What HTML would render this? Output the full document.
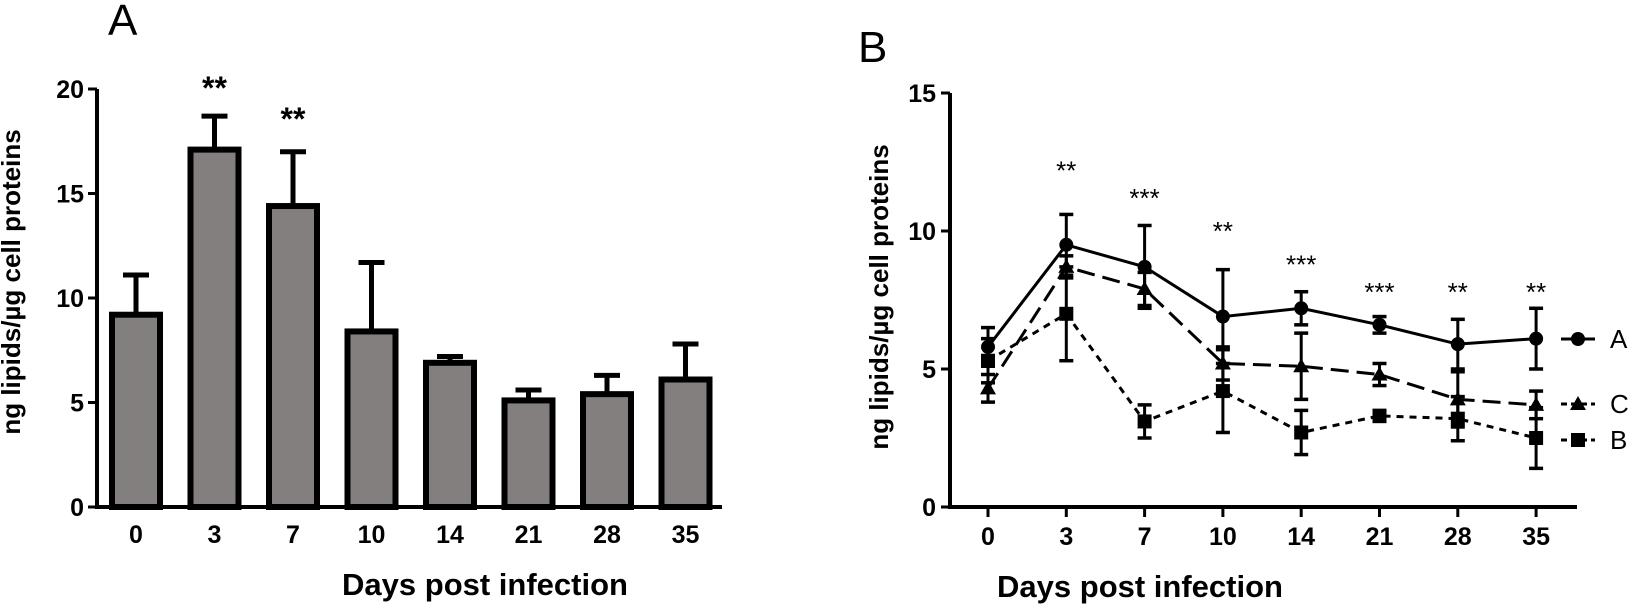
<!DOCTYPE html>
<html><head><meta charset="utf-8"><style>
body{margin:0;background:#fff}
svg{display:block;font-family:"Liberation Sans",Arial,sans-serif}
</style></head><body>
<svg id="c" width="1637" height="609" viewBox="0 0 1637 609">
<g id="pa"></g>
<g id="pb"></g>
</svg>
<script>
const cats=["0","3","7","10","14","21","28","35"];
const barVals=[9.2,17.1,14.4,8.4,6.9,5.1,5.4,6.1];
const barErr=[1.9,1.6,2.6,3.3,0.3,0.5,0.9,1.7];
const barSig=["","**","**","","","","",""];
const barSigLevel=[0,20.2,18.7,0,0,0,0,0];
const ticksA=[0,5,10,15,20];
const serA=[5.8,9.5,8.7,6.9,7.2,6.6,5.9,6.1];
const errA=[0.7,1.1,1.5,1.7,0.6,0.3,0.9,1.1];
const serC=[4.3,8.7,7.9,5.2,5.1,4.8,3.9,3.7];
const errC=[0.5,0.4,0.6,0.6,1.2,0.4,1.0,0.5];
const serB=[5.3,7.0,3.1,4.2,2.7,3.3,3.2,2.5];
const errB=[0.8,1.7,0.6,1.5,0.8,0.2,0.8,1.1];
const lineSig=["","**","***","**","***","***","**","**"];
const lineSigLevel=[0,12.3,11.3,10.1,8.9,7.9,7.9,7.9];
const ticksB=[0,5,10,15];
const NS="http://www.w3.org/2000/svg";
function mk(p,t,a,txt){const e=document.createElementNS(NS,t);for(const k in a)e.setAttribute(k,a[k]);if(txt!==undefined)e.textContent=txt;p.appendChild(e);return e;}
// Panel A
const A=document.getElementById('pa');
const ya=v=>507-v*20.9, xa=i=>136+i*78.5;
let t=mk(A,'text',{x:108,y:35,'font-size':44},'A');
t=mk(A,'text',{x:0,y:0,'font-size':26,'font-weight':'bold','text-anchor':'middle',transform:'translate(20,282) rotate(-90)'},'ng lipids/µg cell proteins');
barVals.forEach((v,i)=>{
 const x=xa(i);
 let l=mk(A,'line',{x1:x,x2:x,y1:ya(v),y2:ya(v+barErr[i]),stroke:'#000','stroke-width':5});
 l=mk(A,'line',{x1:x-13,x2:x+13,y1:ya(v+barErr[i]),y2:ya(v+barErr[i]),stroke:'#000','stroke-width':5});
 const r=mk(A,'rect',{x:x-24,y:ya(v),width:48,height:ya(0)-ya(v),fill:'#827f7e',stroke:'#000','stroke-width':6});
 
 if(barSig[i]){const s=mk(A,'text',{x:x,y:ya(barSigLevel[i])+14,'font-size':32,'font-weight':'bold','text-anchor':'middle'},barSig[i]);}
 const tl=mk(A,'text',{x:x,y:543,'font-size':25,'font-weight':'bold','text-anchor':'middle'},cats[i]);
});
let ax=mk(A,'path',{d:`M97,${ya(20)} V${ya(0)} H722`,stroke:'#000','stroke-width':4,fill:'none'});
ticksA.forEach(v=>{let l=mk(A,'line',{x1:88,x2:97,y1:ya(v),y2:ya(v),stroke:'#000','stroke-width':3});
 const s=mk(A,'text',{x:84,y:ya(v)+9,'font-size':25,'font-weight':'bold','text-anchor':'end'},v);});
t=mk(A,'text',{x:485,y:595,'font-size':31,'font-weight':'bold','text-anchor':'middle'},'Days post infection');
// Panel B
const B=document.getElementById('pb');
const yb=v=>507-v*27.6, xb=i=>988+i*78.3;
t=mk(B,'text',{x:858,y:62,'font-size':44},'B');
t=mk(B,'text',{x:0,y:0,'font-size':26,'font-weight':'bold','text-anchor':'middle',transform:'translate(888,297) rotate(-90)'},'ng lipids/µg cell proteins');
ax=mk(B,'path',{d:`M950,${yb(15)} V${yb(0)} H1577`,stroke:'#000','stroke-width':4,fill:'none'});
ticksB.forEach(v=>{let l=mk(B,'line',{x1:941,x2:950,y1:yb(v),y2:yb(v),stroke:'#000','stroke-width':3});
 const s=mk(B,'text',{x:936,y:yb(v)+9,'font-size':25,'font-weight':'bold','text-anchor':'end'},v);});
cats.forEach((c,i)=>{let l=mk(B,'line',{x1:xb(i),x2:xb(i),y1:yb(0),y2:yb(0)+10,stroke:'#000','stroke-width':3});
 const s=mk(B,'text',{x:xb(i),y:545,'font-size':25,'font-weight':'bold','text-anchor':'middle'},c);
 if(lineSig[i]){const q=mk(B,'text',{x:xb(i),y:yb(lineSigLevel[i])+12,'font-size':26,'text-anchor':'middle'},lineSig[i]);}
});
function series(vals,errs,dash,marker,name,legY,lab){
 const g=mk(B,'g',{});
 vals.forEach((v,i)=>{mk(g,'line',{x1:xb(i),x2:xb(i),y1:yb(v-errs[i]),y2:yb(v+errs[i]),stroke:'#000','stroke-width':3});
  [v-errs[i],v+errs[i]].forEach(e=>mk(g,'line',{x1:xb(i)-7,x2:xb(i)+7,y1:yb(e),y2:yb(e),stroke:'#000','stroke-width':3.5}));});
 mk(g,'polyline',{points:vals.map((v,i)=>xb(i)+','+yb(v)).join(' '),fill:'none',stroke:'#000','stroke-width':3,'stroke-dasharray':dash});
 const pts=vals.map((v,i)=>[xb(i),yb(v)]).concat([[1578,legY]]);
 pts.forEach(([x,y])=>{
  if(marker==='circle')mk(g,'circle',{cx:x,cy:y,r:7,fill:'#000'});
  else if(marker==='square')mk(g,'rect',{x:x-7,y:y-7,width:14,height:14,fill:'#000'});
  else mk(g,'path',{d:`M${x},${y-8} L${x+8},${y+6} L${x-8},${y+6} Z`,fill:'#000'});
 });
 mk(g,'line',{x1:1561,x2:1595,y1:legY,y2:legY,stroke:'#000','stroke-width':3,'stroke-dasharray':dash==='none'?'none':'6,4'});
 const lt=mk(g,'text',{x:1610,y:legY+9,'font-size':26},lab);
}
series(serA,errA,'none','circle','a',339,'A');
series(serC,errC,'18,8','tri','c',404,'C');
series(serB,errB,'7,6','square','b',440,'B');
t=mk(B,'text',{x:1140,y:597,'font-size':31,'font-weight':'bold','text-anchor':'middle'},'Days post infection');
</script>
</body></html>
